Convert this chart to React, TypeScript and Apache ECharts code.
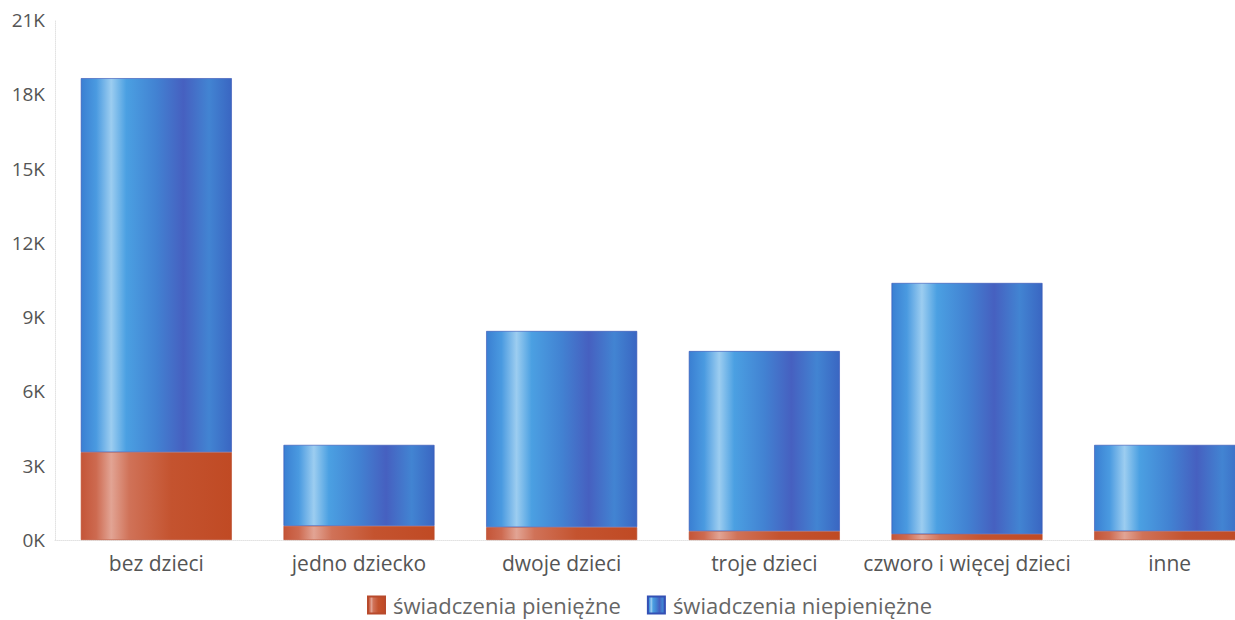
import React, { useEffect, useRef } from "react";
import * as echarts from "echarts";

const categories = ["bez dzieci", "jedno dziecko", "dwoje dzieci", "troje dzieci", "czworo i więcej dzieci", "inne"];
const cashValues = [3550, 570, 520, 360, 240, 360];
const nonCashValues = [15100, 3270, 7920, 7270, 10140, 3480];
const seriesNames = ["świadczenia pieniężne", "świadczenia niepieniężne"];

const FONT = "'Open Sans', 'Noto Sans', sans-serif";

const blueGrad = {
  type: "linear", x: 0, y: 0, x2: 1, y2: 0,
  colorStops: [
    { offset: 0, color: "#3a7fd2" },
    { offset: 0.1, color: "#4a9ae0" },
    { offset: 0.2, color: "#9ccdf0" },
    { offset: 0.3, color: "#4ba0e2" },
    { offset: 0.5, color: "#4282d2" },
    { offset: 0.68, color: "#4660c0" },
    { offset: 0.85, color: "#4284d2" },
    { offset: 1, color: "#3a66c2" },
  ],
};
const redGrad = {
  type: "linear", x: 0, y: 0, x2: 1, y2: 0,
  colorStops: [
    { offset: 0, color: "#c45538" },
    { offset: 0.1, color: "#cd6a50" },
    { offset: 0.2, color: "#e2a494" },
    { offset: 0.32, color: "#d07258" },
    { offset: 0.6, color: "#c4532f" },
    { offset: 1, color: "#c04a24" },
  ],
};

export default function App() {
  const ref = useRef<HTMLDivElement>(null);
  useEffect(() => {
    document.body.style.margin = "0";
    const chart = echarts.init(ref.current!, null, { renderer: "svg" });
    chart.setOption({
      animation: false,
      textStyle: { fontFamily: FONT },
      grid: { left: 55, right: 19, top: 20, bottom: 80, containLabel: false },
      legend: {
        top: 594,
        left: 362,
        padding: [0, 5, 0, 5],
        icon: "rect",
        itemWidth: 17,
        itemHeight: 17,
        itemGap: 26,
        textStyle: { fontSize: 22, color: "#666", fontFamily: FONT, padding: [0, 0, 0, 3] },
        data: [
          { name: seriesNames[0], itemStyle: { color: redGrad } },
          { name: seriesNames[1], itemStyle: { color: blueGrad } },
        ],
      },
      xAxis: {
        type: "category",
        data: categories,
        axisLine: { show: true, lineStyle: { color: "#e2e2e2", type: "dotted", width: 1 } },
        axisTick: { show: false },
        axisLabel: { interval: 0, fontSize: 21, color: "#555", margin: 12, fontFamily: FONT },
      },
      yAxis: {
        type: "value",
        min: 0,
        max: 21000,
        interval: 3000,
        axisLine: { show: true, lineStyle: { color: "#e2e2e2", type: "dotted", width: 1 } },
        axisTick: { show: false },
        splitLine: { show: false },
        axisLabel: {
          fontSize: 19,
          color: "#555",
          margin: 10,
          fontFamily: FONT,
          formatter: (v: number) => `${Math.round(v / 1000)}K`,
        },
      },
      series: [
        {
          name: seriesNames[0],
          type: "bar",
          stack: "total",
          barWidth: "74.5%",
          data: cashValues,
          itemStyle: { color: redGrad, borderColor: "#b84a2c", borderWidth: 0.6 },
        },
        {
          name: seriesNames[1],
          type: "bar",
          stack: "total",
          barWidth: "74.5%",
          data: nonCashValues,
          itemStyle: { color: blueGrad, borderColor: "#3450b4", borderWidth: 0.6 },
        },
      ],
    });
    return () => chart.dispose();
  }, []);
  return (
    <div style={{ width: 1235, height: 620, overflow: "hidden" }}>
      <div ref={ref} style={{ width: 1290, height: 620 }} />
    </div>
  );
}
